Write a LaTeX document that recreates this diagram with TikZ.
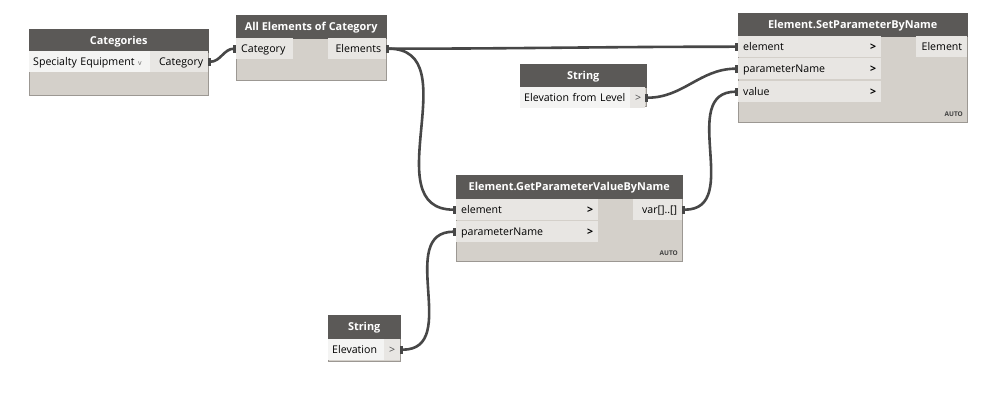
\documentclass[tikz,border=0pt]{standalone}
\usepackage{fontspec}
\setmainfont{Open Sans}
\usetikzlibrary{arrows.meta}

\definecolor{headgray}{HTML}{5B5957}
\definecolor{bodygray}{HTML}{D4D0CA}
\definecolor{portgray}{HTML}{E8E6E3}
\definecolor{dropwhite}{HTML}{F4F4F3}
\definecolor{edgegray}{HTML}{9C9893}
\definecolor{wiregray}{HTML}{474747}

\newcommand\portfont{\fontsize{10.6}{12}\selectfont}
\newcommand\pushright{\hskip 0pt plus 1filll}
\newcommand\chev{\textbf{>}}

\tikzstyle{body} = [draw=edgegray, fill=bodygray, anchor=north west, inner sep=0pt]
\tikzstyle{head} = [draw=headgray, fill=headgray, text=white, anchor=north west, inner sep=0pt,
                    minimum height=23pt, text height=9pt, text depth=1.5pt,
                    font=\bfseries\fontsize{10.9}{12}\selectfont]
\tikzstyle{port} = [fill=portgray, anchor=north west, inner xsep=5pt, inner ysep=0pt,
                    minimum height=21pt, text height=9.5pt, text depth=1.5pt, font=\portfont]
\tikzstyle{autotag} = [anchor=south east, inner sep=0pt, text=black!75,
                       font=\bfseries\fontsize{6.5}{7}\selectfont]
\tikzstyle{wire} = [draw=wiregray, line width=2.6pt,
                    {Rectangle[length=3pt,width=8pt]}-{Rectangle[length=3pt,width=8pt]}]

\begin{document}
\begin{tikzpicture}[x=1pt, y=-1pt]
\useasboundingbox[fill=white] (0,0) rectangle (999,401);

% Categories
\node[body, minimum width=179pt, minimum height=66pt] (cat) at (29,29) {};
\node[head, minimum width=179pt] (cathead) at (cat.north west) {Categories};
\node[port, fill=dropwhite, text width=113pt, inner xsep=4pt] (catdrop) at (29,51)
    {\mbox{Specialty Equipment\,\,{\color{black!60}\scriptsize v}}};
\node[port, text width=48pt, align=right] (catout) at (150,51) {\mbox{Category}};

% All Elements of Category
\node[body, minimum width=150pt, minimum height=65pt] (allel) at (236,15) {};
\node[head, minimum width=150pt] (allelhead) at (allel.north west) {All Elements of Category};
\node[port, text width=47pt] (allelin) at (236,38) {\mbox{Category}};
\node[port, text width=48pt, align=right] (allelout) at (328,38) {\mbox{Elements}};

% Element.SetParameterByName
\node[body, minimum width=229pt, minimum height=109pt] (setp) at (738,13) {};
\node[head, minimum width=229pt] (setphead) at (setp.north west) {Element.SetParameterByName};
\node[port, text width=133pt] (setpel) at (738,36) {element\pushright\chev};
\node[port, text width=133pt] (setppar) at (738,58) {parameterName\pushright\chev};
\node[port, text width=133pt] (setpval) at (738,81) {value\pushright\chev};
\node[port, text width=41pt, align=right] (setpout) at (916,36) {\mbox{Element}};
\node[autotag] (setpauto) at (963,117) {AUTO};

% String (top)
\node[body, minimum width=126pt, minimum height=42pt] (strone) at (520,64) {};
\node[head, minimum width=126pt] (stronehead) at (strone.north west) {String};
\node[port, fill=dropwhite, text width=102pt, inner xsep=4pt] (stronetxt) at (520,87)
    {\mbox{Elevation from Level}};
\node[port, text width=5pt, inner xsep=5pt] (stronechev) at (630,87) {\color{black!70}>};

% Element.GetParameterValueByName
\node[body, minimum width=226pt, minimum height=86pt] (getp) at (456,175) {};
\node[head, minimum width=226pt] (getphead) at (getp.north west) {Element.GetParameterValueByName};
\node[port, text width=132pt] (getpel) at (456,199) {element\pushright\chev};
\node[port, text width=132pt] (getppar) at (456,221) {parameterName\pushright\chev};
\node[port, text width=39pt, align=right] (getpout) at (633,199) {\mbox{var[]..[]}};
\node[autotag] (getpauto) at (678,256) {AUTO};

% String (bottom)
\node[body, minimum width=72pt, minimum height=46pt] (strtwo) at (328,315) {};
\node[head, minimum width=72pt] (strtwohead) at (strtwo.north west) {String};
\node[port, fill=dropwhite, text width=48pt, inner xsep=4pt] (strtwotxt) at (328,339)
    {\mbox{Elevation}};
\node[port, text width=6pt, inner xsep=5pt] (strtwochev) at (384,339) {\color{black!70}>};

% wires
\draw[wire] (catout.east) to[out=0, in=180] (allelin.west);
\draw[wire] (allelout.east) to[out=0, in=180] (setpel.west);
\draw[wire] (allelout.east) to[out=0, in=180, looseness=1.2] (getpel.west);
\draw[wire] (stronechev.east) to[out=0, in=180] (setppar.west);
\draw[wire] (getpout.east) to[out=0, in=180, looseness=1.2] (setpval.west);
\draw[wire] (strtwochev.east) to[out=0, in=180, looseness=1.2] (getppar.west);
\end{tikzpicture}
\end{document}
